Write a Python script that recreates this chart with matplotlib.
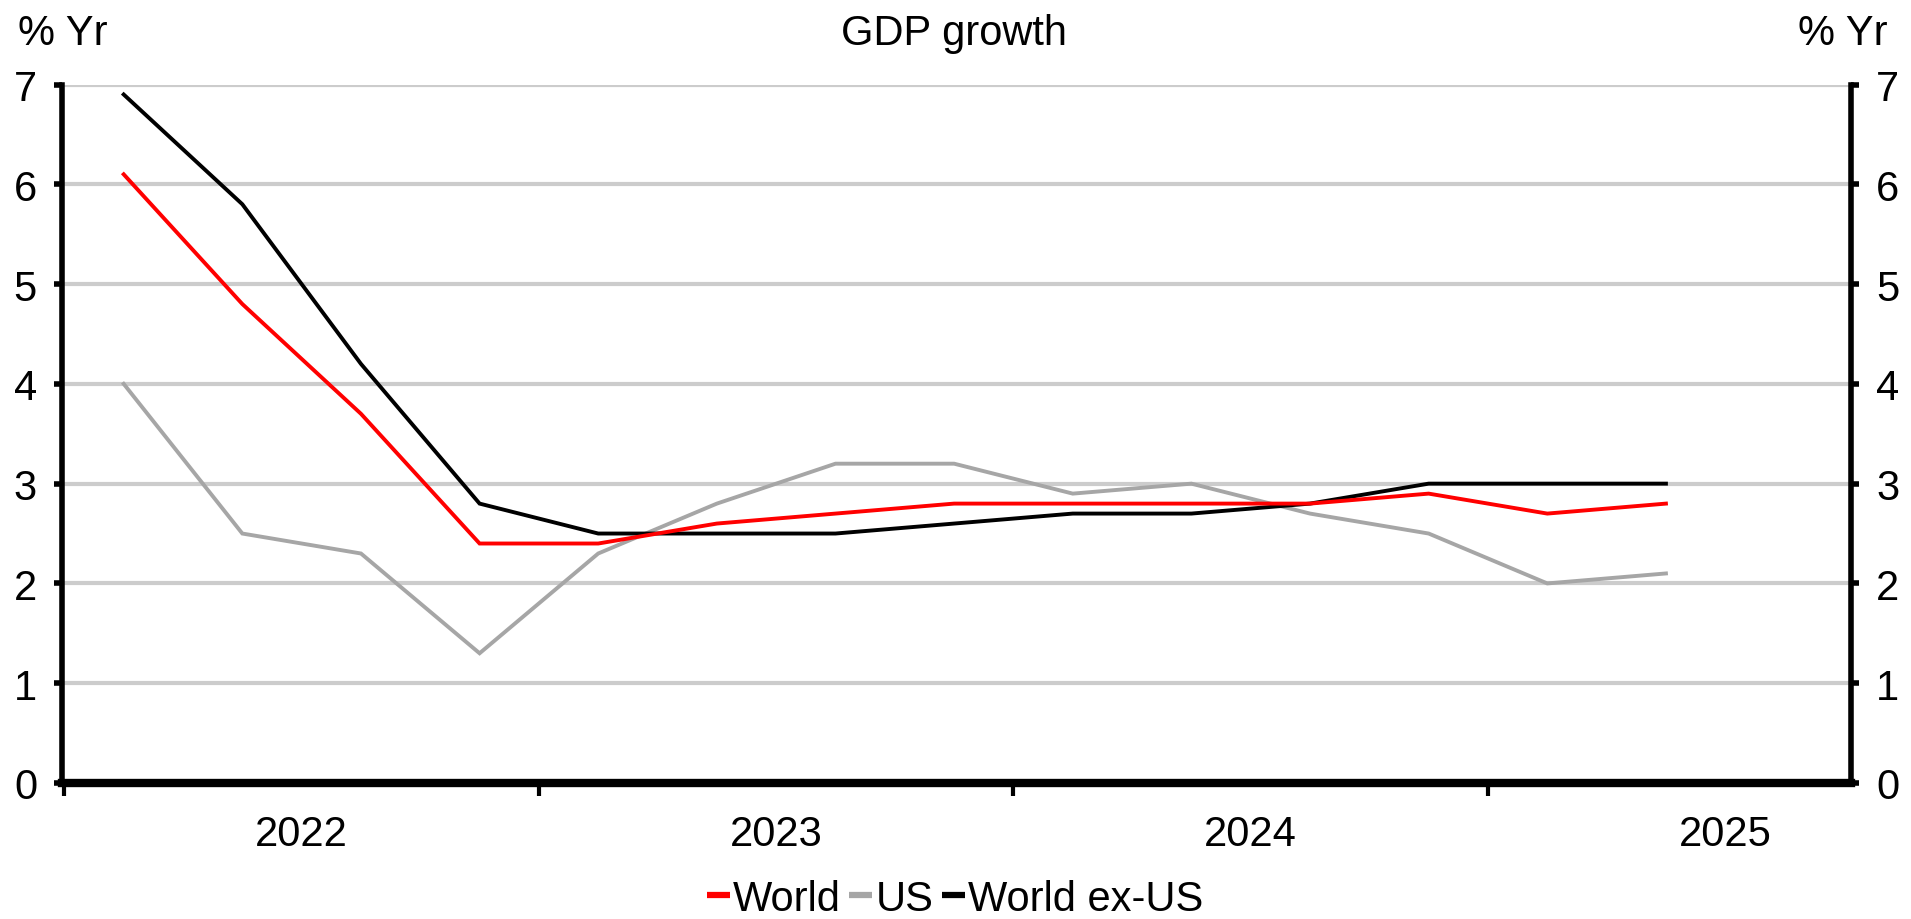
import matplotlib
matplotlib.use("Agg")
import matplotlib.pyplot as plt
from matplotlib.ticker import FixedLocator, NullFormatter, FixedFormatter

plt.rcParams['font.family'] = ['Liberation Sans Narrow', 'Liberation Sans', 'DejaVu Sans']

quarters = ["2022Q1", "2022Q2", "2022Q3", "2022Q4",
            "2023Q1", "2023Q2", "2023Q3", "2023Q4",
            "2024Q1", "2024Q2", "2024Q3", "2024Q4",
            "2025Q1", "2025Q2"]
world = [6.1, 4.8, 3.7, 2.4, 2.4, 2.6, 2.7, 2.8, 2.8, 2.8, 2.8, 2.9, 2.7, 2.8]
us = [4.0, 2.5, 2.3, 1.3, 2.3, 2.8, 3.2, 3.2, 2.9, 3.0, 2.7, 2.5, 2.0, 2.1]
world_ex_us = [6.9, 5.8, 4.2, 2.8, 2.5, 2.5, 2.5, 2.6, 2.7, 2.7, 2.8, 3.0, 3.0, 3.0]
years = [2022, 2023, 2024, 2025]
yticks = [0, 1, 2, 3, 4, 5, 6, 7]

# mid-quarter positions (decimal years)
x = [int(q[:4]) + (int(q[-1]) - 1) * 0.25 + 0.125 for q in quarters]

W, H = 1911, 920
fig = plt.figure(figsize=(W / 100, H / 100), dpi=100)
L, R, B, T = 62, 1851, 784, 85.5
ax = fig.add_axes([L / W, 1 - B / H, (R - L) / W, (B - T) / H])

FS = 30
ax.set_ylim(0, 7)
ax.set_xlim(2021.995, 2025.765)

for v in yticks:
    ax.axhline(v, color='#cccccc', lw=3.0, zorder=1)

ax.plot(x, us, color='#a6a6a6', lw=2.8, zorder=3, label='US', solid_joinstyle='miter')
ax.plot(x, world_ex_us, color='#000000', lw=2.8, zorder=4, label='World ex-US', solid_joinstyle='miter')
ax.plot(x, world, color='#ff0000', lw=2.8, zorder=5, label='World', solid_joinstyle='miter')

ax.spines['top'].set_visible(False)
ax.spines['left'].set_linewidth(4)
ax.spines['right'].set_linewidth(4)
ax.spines['bottom'].set_linewidth(6)

ax.set_yticks(yticks)
ax.tick_params(axis='y', which='both', direction='out', length=6, width=4,
               labelsize=FS, pad=12, left=True, right=True, labelleft=True, labelright=True)

ax.xaxis.set_major_locator(FixedLocator(years))
ax.xaxis.set_major_formatter(NullFormatter())
ax.xaxis.set_minor_locator(FixedLocator([y + 0.5 for y in years]))
ax.xaxis.set_minor_formatter(FixedFormatter([str(y) for y in years]))
ax.tick_params(axis='x', which='major', direction='out', length=9, width=3)
ax.tick_params(axis='x', which='minor', length=0, labelsize=FS, pad=22)

fig.text(18 / W, 1 - 45 / H, '% Yr', fontsize=FS, ha='left', va='baseline')
fig.text(1888 / W, 1 - 45 / H, '% Yr', fontsize=FS, ha='right', va='baseline')
fig.text(954 / W, 1 - 45 / H, 'GDP growth', fontsize=FS, ha='center', va='baseline')

h = ax.get_legend_handles_labels()
handles = dict(zip(h[1], h[0]))
order = ['World', 'US', 'World ex-US']
leg = fig.legend([handles[k] for k in order], order, loc='center',
                 bbox_to_anchor=(955 / W, 1 - 900 / H), ncol=3, frameon=False,
                 fontsize=FS, handlelength=0.55, handletextpad=0.08, columnspacing=0.2,
                 borderpad=0)
for lh in leg.get_lines():
    lh.set_linewidth(4.5)
    lh.set_solid_capstyle('butt')

fig.savefig('out.png', dpi=100)
